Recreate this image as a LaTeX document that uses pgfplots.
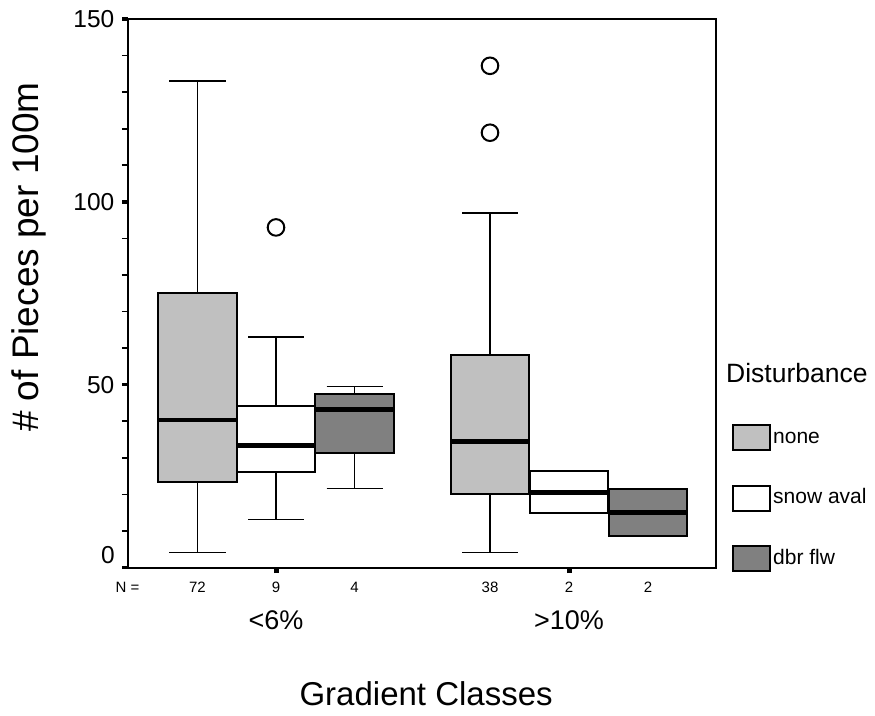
\documentclass[border=0pt]{standalone}
\usepackage{fontspec}
\setmainfont{Liberation Sans}
\usepackage{pgfplots}
\pgfplotsset{compat=1.18}
\usepgfplotslibrary{statistics}
\definecolor{gnone}{RGB}{192,192,192}
\definecolor{gdbr}{RGB}{128,128,128}
\newcommand\fs[1]{\fontsize{#1pt}{#1pt}\selectfont}
\begin{document}
\begin{tikzpicture}[x=1pt,y=1pt]
\path[use as bounding box] (0,0) rectangle (875,715);
\begin{axis}[
  at={(128pt,147.5pt)}, anchor=south west,
  scale only axis, width=588pt, height=548.5pt,
  xmin=0, xmax=588, ymin=0, ymax=150,
  clip=false,
  axis line style={line width=2pt},
  tick pos=left, tick align=outside,
  major tick length=5.5pt, minor tick length=6pt,
  ytick={0,50,100,150}, yticklabels={,50,100,150},
  minor ytick={10,20,30,40,60,70,80,90,110,120,130,140},
  every minor tick/.append style={line width=1.7pt, black},
  every major y tick/.append style={line width=3.5pt, black},
  xtick={148,441}, xticklabels={{<6\%},{>10\%}},
  every major x tick/.append style={line width=5pt, black},
  /pgf/number format/assume math mode=true,
  yticklabel style={font=\fs{24.5}, inner sep=0pt, xshift=-8pt},
  xticklabel style={font=\fs{27}, anchor=center, yshift=-47pt},
  xlabel={Gradient Classes},
  xlabel style={font=\fs{33}, at={(rel axis cs:0.507,-0.2306)}, anchor=center},
  ylabel={\# of Pieces per 100m},
  ylabel style={font=\fs{37}, at={(rel axis cs:-0.1684,0.566)}, anchor=center},
  boxplot/draw direction=y,
  boxplot/every box/.style={line width=2pt},
  boxplot/every whisker/.style={line width=1.7pt},
  boxplot/every median/.style={line width=4.5pt, black},
  legend image code/.code={\draw[#1] (0pt,-12.5pt) rectangle (37pt,12.5pt);},
  legend style={at={(rel axis cs:1.0272,0.2616)}, anchor=north west, draw=none, fill=none,
    font=\fs{21}, row sep=33.5pt, inner sep=0pt,
    nodes={inner sep=2pt, text height=15pt, text depth=4pt}},
  legend cell align=left,
]
% group <6%
\addplot[forget plot, draw=black, fill=gnone, mark=o, mark size=8.3pt, mark options={line width=2pt, fill=white},
  boxplot prepared={draw position=69.5, lower whisker=4.1, lower quartile=23.5, median=40.4,
  upper quartile=75, upper whisker=133, box extend=78.5, whisker extend=56}] coordinates {};
\addplot[forget plot, draw=black, fill=white, mark=o, mark size=8.3pt, mark options={line width=2pt, fill=white},
  boxplot prepared={draw position=148, lower whisker=13.1, lower quartile=26, median=33.3,
  upper quartile=44.3, upper whisker=63.1, box extend=78.5, whisker extend=56}]
  table[row sep=\\, y index=0] {data\\ 93\\};
\addplot[forget plot, draw=black, fill=gdbr, mark=o, mark size=8.3pt, mark options={line width=2pt, fill=white},
  boxplot prepared={draw position=226.5, lower whisker=21.6, lower quartile=31.4, median=43.2,
  upper quartile=47.5, upper whisker=49.5, box extend=78.5, whisker extend=56}] coordinates {};
% group >10%
\addplot[forget plot, draw=black, fill=gnone, mark=o, mark size=8.3pt, mark options={line width=2pt, fill=white},
  boxplot prepared={draw position=362, lower whisker=4.1, lower quartile=20.2, median=34.4,
  upper quartile=58.2, upper whisker=97, box extend=78.5, whisker extend=56}]
  table[row sep=\\, y index=0] {data\\ 118.9\\ 137.2\\};
\addplot[forget plot, draw=black, fill=white,
  boxplot prepared={draw position=441, lower whisker=14.8, lower quartile=14.8, median=20.5,
  upper quartile=26.5, upper whisker=26.5, box extend=78.5, whisker extend=0}] coordinates {};
\addplot[forget plot, draw=black, fill=gdbr,
  boxplot prepared={draw position=520, lower whisker=8.7, lower quartile=8.7, median=15,
  upper quartile=21.6, upper whisker=21.6, box extend=78.5, whisker extend=0}] coordinates {};
% legend
\addlegendimage{draw=black, fill=gnone, line width=2pt}
\addlegendentry{none}
\addlegendimage{draw=black, fill=white, line width=2pt}
\addlegendentry{snow aval}
\addlegendimage{draw=black, fill=gdbr, line width=2pt}
\addlegendentry{dbr flw}
% N row and zero label
\node[font=\fs{24.5}, anchor=east, inner sep=0pt] at (axis cs:0,3.3) [xshift=-13pt] {0};
\node[font=\fs{15}, anchor=center] at (axis cs:-0.5,0) [yshift=-19.5pt] {N =};
\node[font=\fs{15}, anchor=center] at (axis cs:69.5,0) [yshift=-19.5pt] {72};
\node[font=\fs{15}, anchor=center] at (axis cs:148,0) [yshift=-19.5pt] {9};
\node[font=\fs{15}, anchor=center] at (axis cs:226.5,0) [yshift=-19.5pt] {4};
\node[font=\fs{15}, anchor=center] at (axis cs:362,0) [yshift=-19.5pt] {38};
\node[font=\fs{15}, anchor=center] at (axis cs:441,0) [yshift=-19.5pt] {2};
\node[font=\fs{15}, anchor=center] at (axis cs:520,0) [yshift=-19.5pt] {2};
\node[font=\fs{26.5}, anchor=west, inner sep=0pt] at (rel axis cs:1.0170,0.3546) {Disturbance};
\end{axis}
\end{tikzpicture}
\end{document}
